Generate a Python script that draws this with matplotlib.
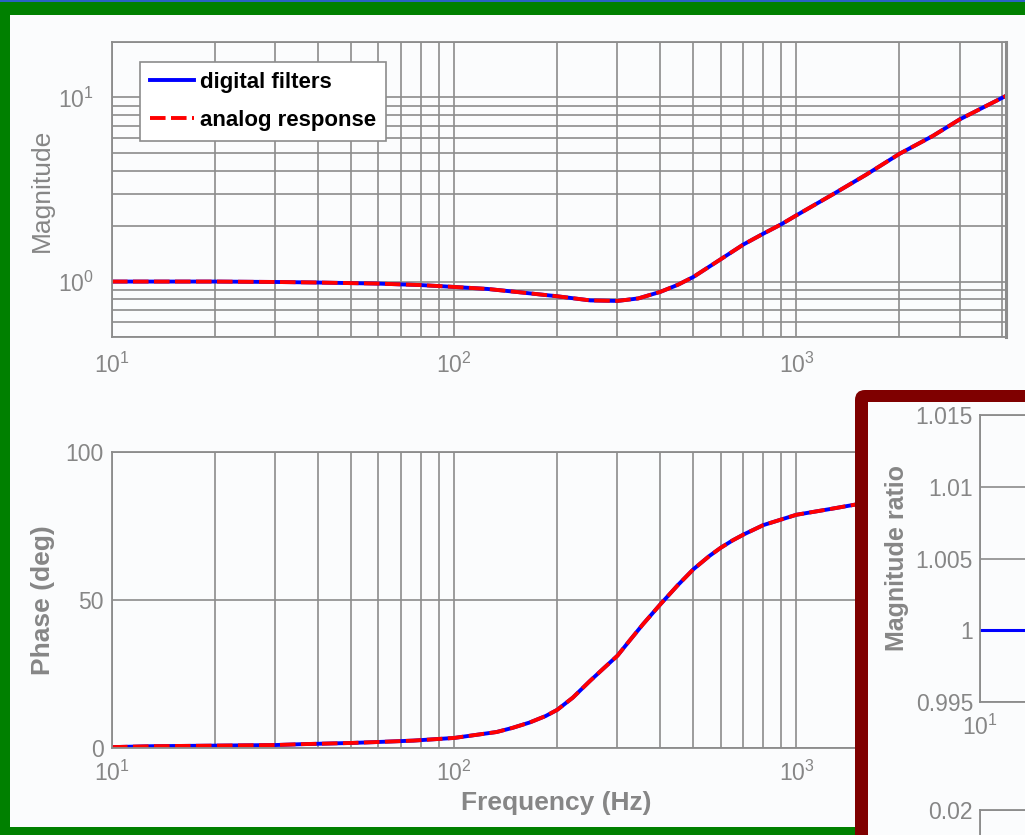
import matplotlib
matplotlib.use('Agg')
import matplotlib.pyplot as plt
from matplotlib.patches import Rectangle, FancyBboxPatch
from matplotlib.ticker import NullFormatter, FormatStrFormatter

plt.rcParams['font.family'] = ['Liberation Sans', 'DejaVu Sans']
plt.rcParams['mathtext.fontset'] = 'custom'
plt.rcParams['mathtext.rm'] = 'Liberation Sans'
plt.rcParams['mathtext.it'] = 'Liberation Sans:italic'
plt.rcParams['mathtext.bf'] = 'Liberation Sans:bold'
plt.rcParams['mathtext.default'] = 'regular'

# magnitude response (Hz, |H|)
freq_mag = [10, 20, 30, 40, 60, 80, 100, 125, 155, 200, 250, 300, 345, 400,
            450, 500, 600, 700, 800, 900, 1000, 1275, 1600, 2000, 2500, 3000, 4096]
mag = [1.0, 1.0, 0.995, 0.988, 0.975, 0.957, 0.935, 0.912, 0.875, 0.832, 0.79,
       0.785, 0.81, 0.879, 0.96, 1.06, 1.32, 1.59, 1.82, 2.04, 2.29, 2.97, 3.81,
       4.94, 6.17, 7.6, 10.2]

# phase response (Hz, deg)
freq_ph = [10, 13, 20, 30, 36, 50, 59, 76, 100, 133, 148, 166, 185, 200, 222,
           249, 272, 300, 325, 356, 400, 450, 500, 557, 600, 650, 700, 800,
           1000, 1250, 1480, 2000, 3000, 4096]
phase = [0.3, 0.6, 0.8, 1.0, 1.3, 1.7, 2.0, 2.5, 3.4, 5.4, 6.8, 8.6, 10.8,
         12.9, 17.0, 22.6, 26.7, 31.2, 36.2, 41.8, 48.5, 55.0, 60.4, 64.9,
         67.6, 70.1, 72.1, 75.3, 78.8, 80.7, 82.2, 84.0, 85.6, 86.5]

# digital / analog magnitude ratio
freq_ratio = [10, 100, 1000, 4096]
ratio = [1.0, 1.0, 1.0, 1.0]

W, H = 1025, 835
GRID = '#8c8c8c'
TXT = '#868686'
PANEL = '#fbfcfd'
FMAX = 4096

fig = plt.figure(figsize=(W / 100, H / 100), dpi=100)
fig.patch.set_facecolor('#008000')


def box(x0, y0, x1, y1):
    return [x0 / W, 1 - y1 / H, (x1 - x0) / W, (y1 - y0) / H]


def px(x, y):
    return x / 100, (H - y) / 100


# white panel and blue strip along the top
fig.add_artist(Rectangle((10 / W, 1 - 827 / H), 1, (827 - 15) / H,
                         transform=fig.transFigure, fc=PANEL, ec='none', zorder=-10))
fig.add_artist(Rectangle((0, 1 - 2 / H), 1, 2 / H, transform=fig.transFigure,
                         fc='#2a62c4', ec='none', zorder=-10))


def style_axes(ax):
    ax.set_facecolor(PANEL)
    for s in ax.spines.values():
        s.set_color(GRID)
        s.set_linewidth(1.3)
    ax.tick_params(which='both', length=0, colors=TXT, labelsize=16.5)


# ---- magnitude ----
ax1 = fig.add_axes(box(112, 42, 1006, 337))
ax1.set_xscale('log')
ax1.set_yscale('log')
ax1.plot(freq_mag, mag, color='#0000ff', lw=2.8, label='digital filters')
ax1.plot(freq_mag, mag, color='#ff0000', lw=2.8, dashes=(4, 1.4), label='analog response')
ax1.set_xlim(10, FMAX)
ax1.set_ylim(0.5, 20)
ax1.grid(True, which='both', color=GRID, lw=1.2)
style_axes(ax1)
ax1.spines['right'].set_linewidth(2.2)
ax1.xaxis.set_minor_formatter(NullFormatter())
ax1.yaxis.set_minor_formatter(NullFormatter())
ax1.tick_params(axis='y', pad=13)
ax1.tick_params(axis='x', pad=11)
leg = ax1.legend(loc='upper left', bbox_to_anchor=((140 - 112) / 894, 1 - (62 - 42) / 295),
                 borderaxespad=0, fancybox=False, edgecolor=GRID, framealpha=1,
                 prop={'weight': 'bold', 'size': 16}, handlelength=2.0,
                 handletextpad=0.25, labelspacing=0.75, borderpad=0.45)
leg.get_frame().set_linewidth(1.2)

# ---- phase ----
ax2 = fig.add_axes(box(112, 452, 1006, 748))
ax2.set_xscale('log')
ax2.plot(freq_ph, phase, color='#0000ff', lw=2.8)
ax2.plot(freq_ph, phase, color='#ff0000', lw=2.8, dashes=(4, 1.4))
ax2.set_xlim(10, FMAX)
ax2.set_ylim(0, 100)
ax2.set_yticks([0, 50, 100])
ax2.grid(True, which='major', color=GRID, lw=1.2)
ax2.xaxis.grid(True, which='minor', color=GRID, lw=1.2)
style_axes(ax2)
ax2.xaxis.set_minor_formatter(NullFormatter())
ax2.tick_params(axis='y', pad=6)
ax2.tick_params(axis='x', pad=9)

fig.text(42 / W, 1 - 190 / H, 'Magnitude', rotation=90, ha='center', va='center',
         color=TXT, fontsize=19)
fig.text(43 / W, 1 - 600 / H, 'Phase (deg)', rotation=90, ha='center', va='center',
         color=TXT, fontsize=19, fontweight='bold')
fig.text(556 / W, 1 - 803 / H, 'Frequency (Hz)', ha='center', va='center',
         color=TXT, fontsize=19, fontweight='bold')

# ---- ratio panel in a dark red frame ----
fig.add_artist(FancyBboxPatch(px(855, 1100), 4, 7.1,
                              boxstyle='round,pad=0,rounding_size=0.1',
                              transform=fig.dpi_scale_trans, fc='#7f0000',
                              ec='none', zorder=5))
fig.add_artist(Rectangle(px(868, 1100), 4, (1100 - 402) / 100,
                         transform=fig.dpi_scale_trans, fc=PANEL, ec='none', zorder=5.1))

ax3 = fig.add_axes(box(980, 415, 1400, 702), zorder=6)
ax3.set_xscale('log')
ax3.plot(freq_ratio, ratio, color='#0000ff', lw=2.2)
ax3.set_xlim(10, FMAX)
ax3.set_ylim(0.995, 1.015)
ax3.set_xticks([10])
ax3.set_yticks([0.995, 1.0, 1.005, 1.01, 1.015])
ax3.yaxis.set_major_formatter(FormatStrFormatter('%g'))
ax3.grid(True, which='major', color=GRID, lw=1.2)
style_axes(ax3)
ax3.xaxis.set_minor_formatter(NullFormatter())
ax3.tick_params(axis='y', pad=5)
ax3.tick_params(axis='x', pad=9)
fig.text(897 / W, 1 - 558 / H, 'Magnitude ratio', rotation=90, ha='center', va='center',
         color=TXT, fontsize=18, fontweight='bold', zorder=7)

ax4 = fig.add_axes(box(980, 810, 1400, 1097), zorder=6)
ax4.set_xscale('log')
ax4.set_xlim(10, FMAX)
ax4.set_ylim(-0.02, 0.02)
ax4.set_yticks([0.02])
ax4.yaxis.set_major_formatter(FormatStrFormatter('%g'))
ax4.grid(True, which='major', color=GRID, lw=1.2)
style_axes(ax4)
ax4.xaxis.set_major_formatter(NullFormatter())
ax4.xaxis.set_minor_formatter(NullFormatter())
ax4.tick_params(axis='y', pad=5)

fig.savefig('out.png', dpi=100, facecolor=fig.get_facecolor())
